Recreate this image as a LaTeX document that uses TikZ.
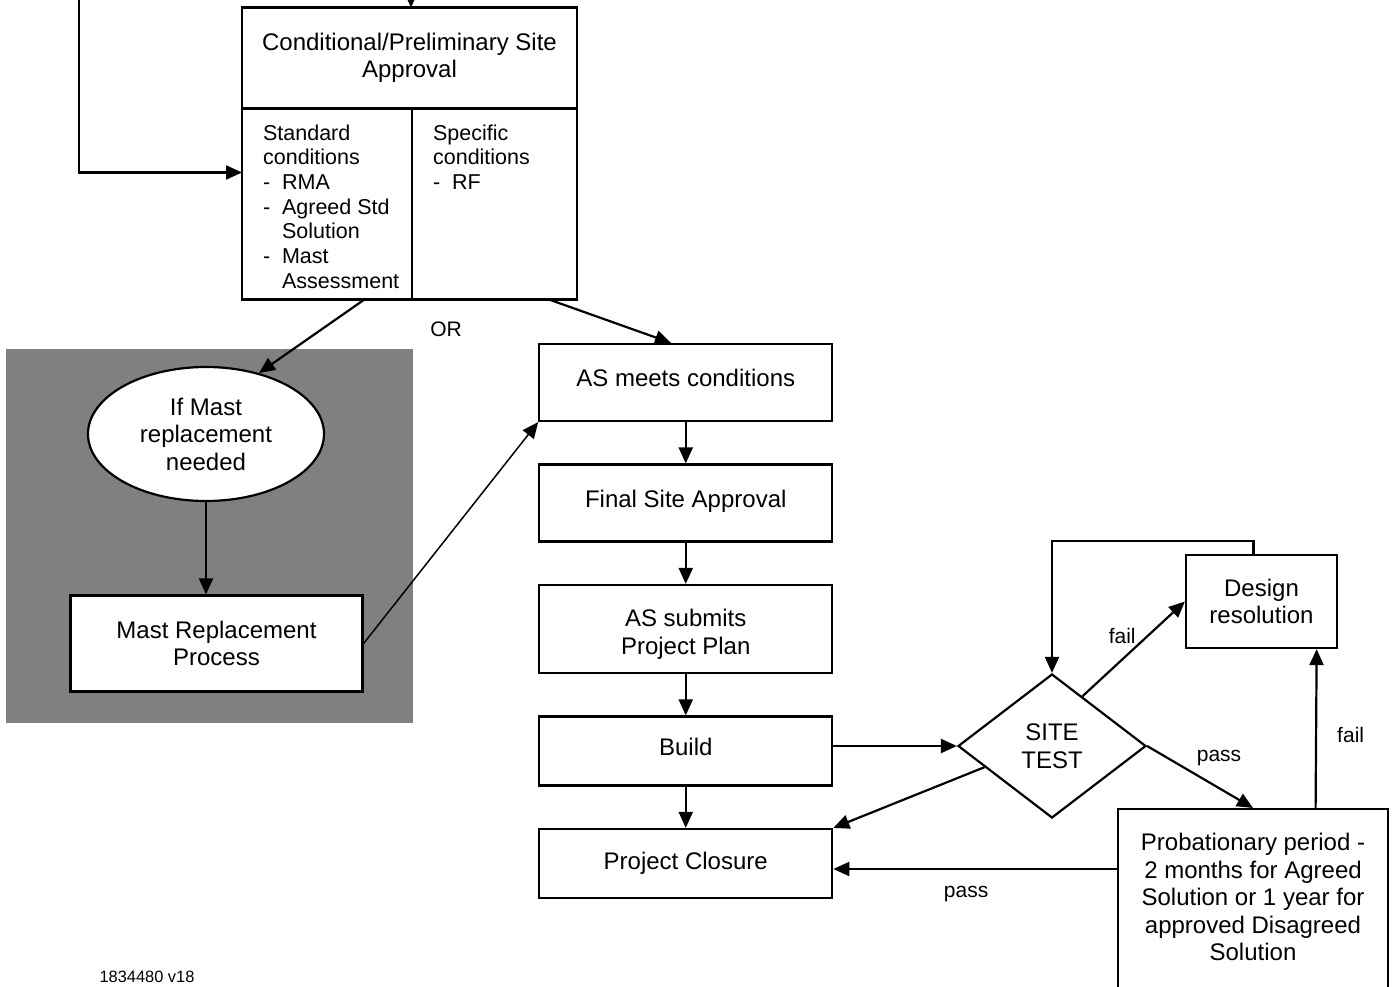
\documentclass[tikz,border=0pt]{standalone}
\usepackage{fontspec}
\setmainfont{Liberation Sans}
\usetikzlibrary{arrows.meta,positioning,shapes.geometric,calc}
\definecolor{panelgray}{RGB}{128,128,128}

\begin{document}
\begin{tikzpicture}[
  x=1pt, y=-1pt,
  font=\fontsize{24}{27.5}\selectfont,
  line width=2.2pt,
  >={Triangle[length=16pt,width=14pt]},
  box/.style={draw, fill=white, align=center, inner sep=4pt, minimum width=293pt},
  oneline/.style={text height=17pt, text depth=9pt},
  cell/.style={draw, inner sep=0pt, outer sep=0pt, minimum height=191pt},
  small/.style={font=\fontsize{21.5}{24.7}\selectfont, align=left, inner sep=0pt, anchor=north west},
  lbl/.style={font=\fontsize{21}{25}\selectfont, inner sep=0pt},
  node distance=41.3pt
]
\useasboundingbox (0,0) rectangle (1393,987);
\fill[panelgray] (6,349) rectangle (413,723);

% conditional approval
\node[draw, align=center, outer sep=0pt, minimum width=335pt, minimum height=101pt] (ct) at (409.5,58) {Conditional/Preliminary Site\\Approval};
\node[cell, minimum width=170pt, anchor=north west] (cl) at (ct.south west) {};
\node[cell, minimum width=165pt, right=0pt of cl] (cr) {};
\node[small] (std) at ($(cl.north west)+(20,15)$) {Standard\\conditions\\\makebox[19pt][l]{-}RMA\\\makebox[19pt][l]{-}Agreed Std\\\hspace*{19pt}Solution\\\makebox[19pt][l]{-}Mast\\\hspace*{19pt}Assessment};
\node[small] (spc) at ($(cr.north west)+(20,15)$) {Specific\\conditions\\\makebox[19pt][l]{-}RF};
\coordinate (feed) at (79,0);
\coordinate (feedtop) at (411,0);

% mast replacement branch
\node[draw, ellipse, fill=white, align=center, inner sep=0pt, minimum width=236pt, minimum height=134pt] (mrq) at (206,434) {If Mast\\replacement\\needed};
\node[box, minimum width=292pt, minimum height=96pt] (mr) at (216.5,643.5) {Mast Replacement\\Process};

% main column
\node[box, oneline, minimum height=77pt] (asm) at (685.75,382.5) {AS meets conditions};
\node[box, oneline, minimum height=77pt, below=of asm] (fsa) {Final Site Approval};
\node[box, minimum height=88pt, below=of fsa] (plan) {\rule{0pt}{28pt}AS submits\\Project Plan};
\node[box, oneline, minimum height=69pt, below=of plan] (build) {Build};
\node[box, text height=17pt, text depth=5pt, minimum height=69pt, below=of build] (close) {Project Closure};

% test loop
\node[draw, diamond, align=center, inner sep=0pt, minimum width=188pt, minimum height=144pt] (st) at (1052,746) {SITE\\TEST};
\node[draw, align=center, minimum width=151pt, minimum height=93pt] (dsn) at (1261.5,601.5) {Design\\resolution};
\node[draw, anchor=north, minimum width=270pt, minimum height=240pt] (prob) at (1253,808) {};
\node[align=center] (probtxt) at (1253,897) {Probationary period -\\2 months for Agreed\\Solution or 1 year for\\approved Disagreed\\Solution};

\node[font=\fontsize{16.4}{19}\selectfont] (ver) at (147,977) {1834480 v18};

\draw[->] (feed) |- ($(cl.north west)!0.335!(cl.south west)$);
\draw[->] (feedtop) -- (feedtop |- ct.north);
\draw[->] ($(cl.south west)!0.72!(cl.south east)$) -- (mrq.49);
\draw[->] ($(cr.south west)!0.83!(cr.south east)$) -- ($(asm.north west)!0.45!(asm.north east)$);
\node[lbl] (or) at (446,329) {OR};
\draw[->] (mrq.south) -- (mrq.south |- mr.north);
\draw[->, line width=1.5pt] (mr.east) -- (asm.south west);
\draw[->] (asm) -- (fsa);
\draw[->] (fsa) -- (plan);
\draw[->] (plan) -- (build);
\draw[->] (build) -- (close);
\draw[->] (build.east |- st.west) -- (st.west);
\draw[->] ($(st.west)!0.29!(st.south)$) -- (close.north east);
\draw[->] ($(st.north)!0.32!(st.east)$) -- node[lbl, xshift=-11.5pt, yshift=12.5pt] {fail} (dsn.west);
\draw[->] (st.east) -- node[lbl, xshift=19pt, yshift=19pt] {pass} (prob.north);
\draw[->] ($(prob.north west)!0.73!(prob.north east)$) -- node[lbl, right=20pt, yshift=-6pt] {fail} ($(dsn.south west)!0.86!(dsn.south east)$);
\draw[->] ([yshift=-5.5pt]close.east -| prob.west) -- node[lbl, below=16pt, xshift=-9pt] {pass} ([yshift=-5.5pt]close.east);
\draw[->] ([xshift=-8pt]dsn.north) -- ++(0,-13) -| (st.north);
\end{tikzpicture}
\end{document}
